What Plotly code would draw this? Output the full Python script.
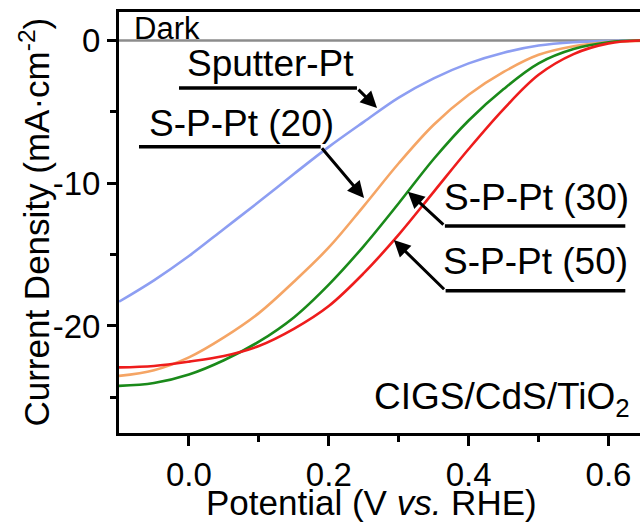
import plotly.graph_objects as go

# ---- data ----
potential = [-0.10, -0.05, 0.00, 0.05, 0.10, 0.15, 0.20, 0.25, 0.30, 0.35, 0.40, 0.45, 0.50, 0.55, 0.60, 0.645]
dark = [0.0] * len(potential)
sputter_pt = [-18.3, -16.8, -15.1, -13.2, -11.3, -9.35, -7.45, -5.7, -4.0, -2.65, -1.6, -0.85, -0.35, -0.12, -0.03, 0.0]
sppt_20 = [-23.5, -23.1, -22.2, -20.8, -19.1, -16.9, -14.5, -11.6, -8.6, -5.9, -3.8, -2.2, -1.0, -0.4, -0.1, -0.02]
sppt_30 = [-24.2, -24.0, -23.4, -22.4, -21.1, -19.4, -17.1, -14.4, -11.4, -8.3, -5.6, -3.4, -1.6, -0.6, -0.12, 0.0]
sppt_50 = [-22.9, -22.8, -22.5, -22.1, -21.4, -20.2, -18.6, -16.3, -13.6, -10.6, -7.6, -4.8, -2.4, -0.95, -0.2, 0.0]

series_names = ["Dark", "Sputter-Pt", "S-P-Pt (20)", "S-P-Pt (30)", "S-P-Pt (50)"]
series_values = [dark, sputter_pt, sppt_20, sppt_30, sppt_50]
series_colors = ["#8c8c8c", "#8d9ef2", "#f5a565", "#1a8a1a", "#ee1c1c"]

x_tick_vals = [0.0, 0.2, 0.4, 0.6]
x_tick_text = ["0.0", "0.2", "0.4", "0.6"]
y_tick_vals = [0, -10, -20]
y_tick_text = ["0", "-10", "-20"]

FONT = "Arial, 'Liberation Sans', sans-serif"

fig = go.Figure()
for name, vals, col in zip(series_names, series_values, series_colors):
    fig.add_trace(go.Scatter(x=potential, y=vals, mode="lines", name=name,
                             line=dict(color=col, width=2.6, shape="spline", smoothing=1.0),
                             showlegend=False))

# callouts: (label, text center x, text center y, underline x0, x1, y, arrow tip x, y, elbow x)
callouts = [
    ("Sputter-Pt", 0.116, -1.64, -0.0142, 0.2403, -3.33, 0.269, -4.73, 0.2403),
    ("S-P-Pt (20)", 0.0745, -5.78, -0.0714, 0.1884, -7.44, 0.2504, -11.03, 0.1884),
    ("S-P-Pt (30)", 0.4977, -11.03, 0.366, 0.624, -13.0, 0.313, -10.59, 0.366),
    ("S-P-Pt (50)", 0.496, -15.48, 0.367, 0.624, -17.53, 0.293, -13.98, 0.367),
]
annotations = []
shapes = []
for lab, tx, ty, u0, u1, uy, ax_tip, ay_tip, elbow in callouts:
    annotations.append(dict(x=tx, y=ty, xref="x", yref="y", text=lab, showarrow=False,
                            xanchor="center", yanchor="middle",
                            font=dict(family=FONT, size=37, color="black")))
    shapes.append(dict(type="line", xref="x", yref="y", x0=u0, x1=u1, y0=uy, y1=uy,
                       line=dict(color="black", width=3.5)))
    annotations.append(dict(x=ax_tip, y=ay_tip, xref="x", yref="y", ax=elbow, ay=uy,
                            axref="x", ayref="y", text="", showarrow=True,
                            arrowhead=2, arrowsize=1.1, arrowwidth=3, arrowcolor="black"))

annotations.append(dict(x=-0.081, y=0.85, xref="x", yref="y", text="Dark", showarrow=False,
                        xanchor="left", yanchor="middle",
                        font=dict(family=FONT, size=31, color="black")))
annotations.append(dict(x=0.6336, y=-25.1, xref="x", yref="y", text="CIGS/CdS/TiO<sub>2</sub>",
                        showarrow=False, xanchor="right", yanchor="middle",
                        font=dict(family=FONT, size=37, color="black")))
# axis titles
annotations.append(dict(x=-0.163, y=0.5, xref="paper", yref="paper",
                        text="Current Density (mA·cm<sup>-2</sup>)", textangle=-90,
                        showarrow=False, xanchor="center", yanchor="middle",
                        font=dict(family=FONT, size=35, color="black")))
annotations.append(dict(x=0.4856, y=-0.166, xref="paper", yref="paper",
                        text="Potential (V <i>vs.</i> RHE)",
                        showarrow=False, xanchor="center", yanchor="middle",
                        font=dict(family=FONT, size=35, color="black")))

fig.update_layout(
    width=640, height=522,
    margin=dict(l=119, r=0, t=12, b=89),
    paper_bgcolor="white", plot_bgcolor="white",
    font=dict(family=FONT, color="black"),
    annotations=annotations, shapes=shapes,
)
fig.update_xaxes(
    range=[-0.1, 0.645], showgrid=False, zeroline=False,
    showline=True, linecolor="black", linewidth=3, mirror=True,
    ticks="outside", ticklen=10, tickwidth=2.5, tickcolor="black",
    tickvals=x_tick_vals, ticktext=x_tick_text,
    tickfont=dict(family=FONT, size=33),
    minor=dict(tickvals=[0.1, 0.3, 0.5], ticks="outside", ticklen=6, tickwidth=2.5, tickcolor="black"),
)
fig.update_yaxes(
    range=[-27.5, 2.0], showgrid=False, zeroline=False,
    showline=True, linecolor="black", linewidth=3, mirror=False,
    ticks="outside", ticklen=9, tickwidth=2.5, tickcolor="black",
    tickvals=y_tick_vals, ticktext=y_tick_text,
    tickfont=dict(family=FONT, size=33),
    minor=dict(tickvals=[-5, -15, -25], ticks="outside", ticklen=6, tickwidth=2.5, tickcolor="black"),
)

fig.write_html("out.html")
